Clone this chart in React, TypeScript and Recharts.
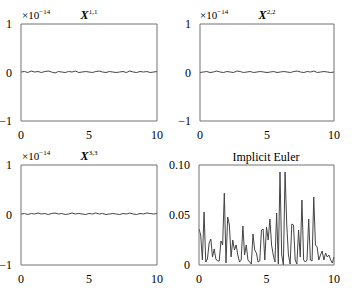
import { LineChart, Line, XAxis, YAxis } from 'recharts'

// time grid, 0..10
const tFlat = [0, 0.25, 0.5, 0.75, 1, 1.25, 1.5, 1.75, 2, 2.25, 2.5, 2.75, 3, 3.25, 3.5, 3.75, 4, 4.25, 4.5, 4.75, 5, 5.25, 5.5, 5.75, 6, 6.25, 6.5, 6.75, 7, 7.25, 7.5, 7.75, 8, 8.25, 8.5, 8.75, 9, 9.25, 9.5, 9.75, 10]

// errors in units of 1e-14
const x11 = [0.01, 0.02, 0.0, 0.03, 0.01, 0.02, 0.0, 0.02, 0.03, 0.01, -0.01, 0.02, 0.01, 0.0, 0.02, 0.01, 0.03, 0.0, 0.01, 0.02, 0.01, 0.0, 0.02, 0.03, 0.01, 0.0, 0.02, 0.01, 0.0, 0.01, 0.02, 0.0, 0.03, 0.01, 0.0, 0.02, 0.01, 0.02, 0.0, 0.01, 0.02]
const x22 = [0.0, 0.01, 0.02, 0.0, 0.01, 0.03, 0.01, 0.0, 0.02, 0.01, 0.0, 0.03, 0.02, 0.0, 0.01, 0.02, 0.0, 0.01, 0.02, 0.01, 0.0, 0.01, 0.02, 0.0, 0.01, 0.02, 0.01, 0.0, 0.02, 0.03, 0.01, 0.0, 0.02, 0.01, 0.03, 0.0, 0.01, 0.02, 0.01, 0.0, 0.01]
const x33 = [0.02, 0.03, 0.01, 0.03, 0.02, 0.04, 0.02, 0.03, 0.01, 0.03, 0.04, 0.02, 0.03, 0.01, 0.02, 0.04, 0.02, 0.03, 0.02, 0.01, 0.03, 0.02, 0.04, 0.02, 0.03, 0.01, 0.02, 0.03, 0.02, 0.01, 0.03, 0.02, 0.04, 0.02, 0.01, 0.03, 0.02, 0.04, 0.03, 0.02, 0.03]

const tEuler = Array.from({ length: 81 }, (_, i) => i * 0.125)
const euler = [
  0.036, 0.03, 0.005, 0.053, 0.003, 0.006, 0.022, 0.026, 0.008, 0.016,
  0.006, 0.004, 0.004, 0.024, 0.02, 0.072, 0.002, 0.048, 0.04, 0.008,
  0.025, 0.015, 0.02, 0.01, 0.003, 0.005, 0.039, 0.01, 0.02, 0.005,
  0.003, 0.001, 0.031, 0.015, 0.012, 0.003, 0.004, 0.035, 0.036, 0.005,
  0.038, 0.025, 0.046, 0.02, 0.01, 0.003, 0.052, 0.001, 0.093, 0.01,
  0.0, 0.093, 0.04, 0.01, 0.001, 0.041, 0.04, 0.005, 0.001, 0.035,
  0.008, 0.065, 0.005, 0.003, 0.005, 0.046, 0.005, 0.004, 0.068, 0.02,
  0.018, 0.005, 0.01, 0.014, 0.005, 0.012, 0.008, 0.01, 0.005, 0.002, 0.008,
]

const xTicks = [0, 5, 10]
const flatTicks = [-1, 0, 1]
const eulerTicks = [0, 0.05, 0.1]

const FONT = '"Liberation Serif", "Times New Roman", serif'
const FRAME = '#707070'
const LINE = '#444'

const toRows = (t: number[], v: number[]) => t.map((x, i) => ({ t: x, v: v[i] }))

function Panel({
  left, top, width, height, yWidth, rows, yDomain, yTicks, fmt,
}: {
  left: number; top: number; width: number; height: number; yWidth: number
  rows: { t: number; v: number }[]; yDomain: [number, number]; yTicks: number[]
  fmt: (v: number) => string
}) {
  const tickStyle = { fontSize: 12, fontFamily: FONT, fill: '#000' }
  return (
    <div style={{ position: 'absolute', left, top }}>
      <LineChart width={width} height={height} data={rows} margin={{ top: 24, right: 20, bottom: 0, left: 0 }}>
        <XAxis xAxisId="b" dataKey="t" type="number" domain={[0, 10]} ticks={xTicks} height={25}
          axisLine={false} tickLine={false} tick={tickStyle} tickMargin={3} />
        <XAxis xAxisId="bm" dataKey="t" type="number" domain={[0, 10]} ticks={xTicks} mirror
          axisLine={{ stroke: FRAME }} tickLine={{ stroke: '#222' }} tickSize={2} tick={false} />
        <XAxis xAxisId="tm" dataKey="t" type="number" domain={[0, 10]} ticks={xTicks} orientation="top" mirror
          axisLine={{ stroke: FRAME }} tickLine={{ stroke: '#222' }} tickSize={2} tick={false} />
        <YAxis yAxisId="l" type="number" domain={yDomain} ticks={yTicks} width={yWidth}
          axisLine={false} tickLine={false} tick={tickStyle} tickMargin={3} tickFormatter={fmt} />
        <YAxis yAxisId="lm" type="number" domain={yDomain} ticks={yTicks} mirror
          axisLine={{ stroke: FRAME }} tickLine={{ stroke: '#222' }} tickSize={2} tick={false} />
        <YAxis yAxisId="rm" type="number" domain={yDomain} ticks={yTicks} orientation="right" mirror
          axisLine={{ stroke: FRAME }} tickLine={{ stroke: '#222' }} tickSize={2} tick={false} />
        <Line xAxisId="b" yAxisId="l" dataKey="v" stroke={LINE} strokeWidth={1} dot={false}
          isAnimationActive={false} />
      </LineChart>
    </div>
  )
}

const fmtFlat = (v: number) => (v < 0 ? `\u2212${Math.abs(v)}` : `${v}`)
const fmtEuler = (v: number) => (v === 0 ? '0' : v.toFixed(2))

function Title({ x, y, sup }: { x: number; y: number; sup: string }) {
  return (
    <div style={{ position: 'absolute', left: x, top: y, transform: 'translateX(-50%)', fontFamily: FONT, fontSize: 12, lineHeight: '14px', whiteSpace: 'nowrap' }}>
      <b><i>X</i></b><sup style={{ fontSize: 7 }}>{sup}</sup>
    </div>
  )
}

function Exponent({ x, y }: { x: number; y: number }) {
  return (
    <div style={{ position: 'absolute', left: x, top: y, fontFamily: FONT, fontSize: 11, lineHeight: '13px', whiteSpace: 'nowrap' }}>
      ×10<sup style={{ fontSize: 7 }}>−14</sup>
    </div>
  )
}

export default function App() {
  return (
    <div style={{ position: 'absolute', left: 0, top: 0, width: 354, height: 292, background: '#fff', overflow: 'hidden' }}>
      <Panel left={-6} top={0} width={183} height={146} yWidth={27} rows={toRows(tFlat, x11)} yDomain={[-1, 1]} yTicks={flatTicks} fmt={fmtFlat} />
      <Panel left={170} top={0} width={184} height={146} yWidth={30} rows={toRows(tFlat, x22)} yDomain={[-1, 1]} yTicks={flatTicks} fmt={fmtFlat} />
      <Panel left={-6} top={141} width={183} height={149} yWidth={27} rows={toRows(tFlat, x33)} yDomain={[-1, 1]} yTicks={flatTicks} fmt={fmtFlat} />
      <Panel left={160} top={141} width={194} height={149} yWidth={39} rows={toRows(tEuler, euler)} yDomain={[0, 0.1]} yTicks={eulerTicks} fmt={fmtEuler} />
      <Title x={89} y={5} sup="1,1" />
      <Title x={267} y={5} sup="2,2" />
      <Title x={89} y={146} sup="3,3" />
      <Exponent x={22} y={6} />
      <Exponent x={200} y={6} />
      <Exponent x={22} y={147} />
      <div style={{ position: 'absolute', left: 266, top: 150, transform: 'translateX(-50%)', fontFamily: FONT, fontSize: 12, lineHeight: '14px', whiteSpace: 'nowrap' }}>
        Implicit Euler
      </div>
    </div>
  )
}
